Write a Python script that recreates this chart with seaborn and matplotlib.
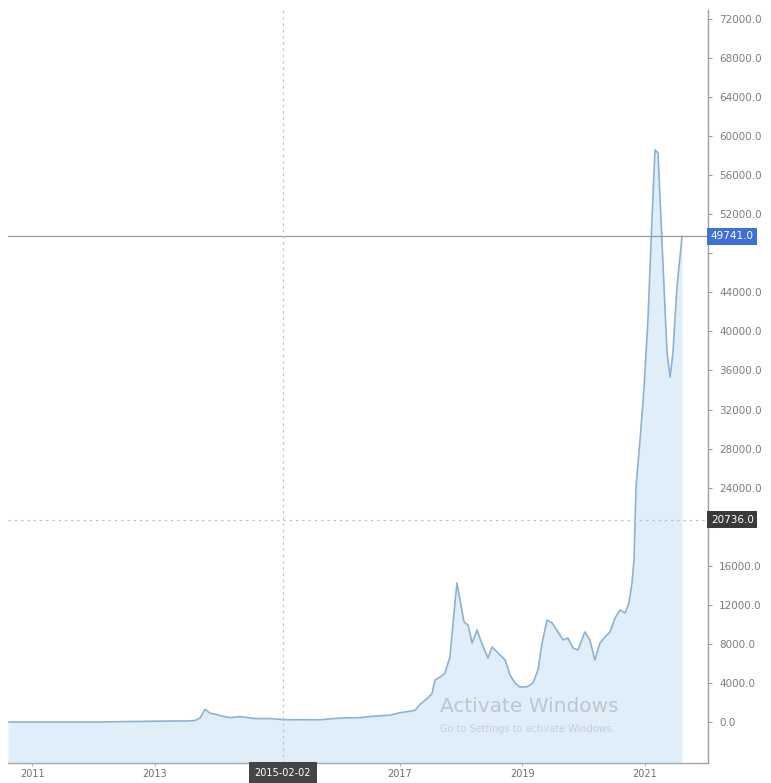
import matplotlib
matplotlib.use("Agg")
import matplotlib.pyplot as plt
import matplotlib.transforms as mtransforms
import pandas as pd
import seaborn as sns

# Price history (USD)
dates = [
    "2010-08-10", "2012-02-10", "2013-04-02", "2013-07-01", "2013-08-28",
    "2013-09-27", "2013-10-27", "2013-11-26", "2013-12-26", "2014-02-06",
    "2014-03-26", "2014-05-24", "2014-08-21", "2014-11-18", "2015-02-16",
    "2015-05-16", "2015-09-13", "2016-01-10", "2016-05-09", "2016-08-06",
    "2016-11-03", "2017-01-02", "2017-03-02", "2017-04-01", "2017-05-01",
    "2017-06-18", "2017-07-11", "2017-07-29", "2017-08-28", "2017-09-26",
    "2017-10-26", "2017-11-19", "2017-12-07", "2017-12-25", "2018-01-18",
    "2018-02-11", "2018-03-07", "2018-04-06", "2018-05-05", "2018-06-10",
    "2018-07-04", "2018-08-21", "2018-09-20", "2018-10-19", "2018-11-18",
    "2018-12-18", "2019-01-28", "2019-03-05", "2019-04-04", "2019-04-28",
    "2019-05-28", "2019-06-27", "2019-08-01", "2019-08-31", "2019-09-29",
    "2019-10-29", "2019-11-28", "2020-01-08", "2020-02-07", "2020-03-08",
    "2020-04-07", "2020-05-07", "2020-06-06", "2020-07-06", "2020-08-05",
    "2020-09-04", "2020-09-27", "2020-10-15", "2020-10-27", "2020-11-08",
    "2020-12-02", "2020-12-26", "2021-01-18", "2021-02-11", "2021-03-01",
    "2021-03-19", "2021-04-06", "2021-04-24", "2021-05-12", "2021-05-30",
    "2021-06-16", "2021-07-10", "2021-08-03", "2021-08-09",
]
prices = [
    0.1, 5, 100, 100, 150,
    400, 1300, 900, 800, 600,
    450, 550, 350, 350, 230,
    240, 230, 400, 450, 600,
    700, 950, 1100, 1200, 1800,
    2500, 2900, 4300, 4600, 5000,
    6650, 11160, 14240, 12500, 10240,
    9930, 8090, 9420, 8000, 6550,
    7680, 6860, 6350, 4810, 3990,
    3580, 3600, 4000, 5330, 8090,
    10450, 10140, 9220, 8400, 8600,
    7580, 7370, 9220, 8400, 6350,
    8090, 8700, 9220, 10650, 11470,
    11160, 12190, 14240, 16600, 24070,
    28880, 34310, 41170, 51410, 58580,
    58280, 51410, 44550, 37790, 35330,
    37790, 44550, 48640, 49741,
]

year_ticks = ["2011", "2013", "2017", "2019", "2021"]
y_ticks = list(range(0, 72001, 4000))
last_price = 49741
cross_date = "2015-02-02"
cross_price = 20736

df = pd.DataFrame({"date": pd.to_datetime(dates), "price": prices})

sns.set_theme(style="white")
plt.rcParams["font.family"] = ["DejaVu Sans"]

fig = plt.figure(figsize=(7.71, 7.83), dpi=100)
ax = fig.add_axes([8 / 771, 20 / 783, 700 / 771, 753 / 783])

y_lo, y_hi = -4200, 72920
line_color = "#8fb1d0"
sns.lineplot(data=df, x="date", y="price", ax=ax, color=line_color, linewidth=1.2)
ax.fill_between(df["date"], df["price"], y_lo, color="#dcedf9", alpha=0.9, linewidth=0)

ax.set_ylim(y_lo, y_hi)
ax.set_xlim(pd.Timestamp("2010-08-10"), pd.Timestamp("2022-01-11"))
ax.set_xlabel("")
ax.set_ylabel("")

# Right-hand price scale; ticks sitting under the price tags carry no label
def tick_text(v):
    if abs(v - last_price) < 2000 or abs(v - cross_price) < 2000:
        return ""
    return f"{v:.1f}"

ax.yaxis.tick_right()
ax.set_yticks(y_ticks)
ax.set_yticklabels([tick_text(v) for v in y_ticks])
ax.tick_params(axis="y", direction="out", length=3, width=0.8, colors="#9a9a9a",
               labelcolor="#7d7d7d", labelsize=7.5, pad=5, right=True)

# Year ticks along the time axis
ax.set_xticks([pd.Timestamp(f"{y}-01-01") for y in year_ticks])
ax.set_xticklabels(year_ticks)
ax.tick_params(axis="x", direction="out", length=2, width=0.8, colors="#b0b0b0",
               labelcolor="#6f6f6f", labelsize=7, pad=2, bottom=True)

for side in ["left", "top"]:
    ax.spines[side].set_visible(False)
ax.spines["right"].set_color("#9f9f9f")
ax.spines["right"].set_linewidth(1.0)
ax.spines["bottom"].set_color("#a8a8a8")
ax.spines["bottom"].set_linewidth(1.0)
ax.grid(False)

# Last price line and tag
ax.axhline(last_price, color="#9a9a9a", linewidth=0.9, zorder=3)
yt = mtransforms.blended_transform_factory(ax.transAxes, ax.transData)
ax.text(1.004, last_price, f"{last_price:.1f}", transform=yt, ha="left", va="center",
        fontsize=7.5, color="white", zorder=5, clip_on=False,
        bbox=dict(boxstyle="square,pad=0.35", fc="#3f70d6", ec="none"))

# Crosshair
cx = pd.Timestamp(cross_date)
ax.axvline(cx, color="#c4c4c4", linewidth=0.9, linestyle=(0, (2, 3)), zorder=3)
ax.axhline(cross_price, color="#c4c4c4", linewidth=0.9, linestyle=(0, (2, 3)), zorder=3)
ax.text(1.004, cross_price, f"{cross_price:.1f}", transform=yt, ha="left", va="center",
        fontsize=7.5, color="white", zorder=5, clip_on=False,
        bbox=dict(boxstyle="square,pad=0.35", fc="#3a3a3a", ec="none"))
xt = mtransforms.blended_transform_factory(ax.transData, ax.transAxes)
ax.text(cx, -0.0135, cross_date, transform=xt, ha="center", va="center",
        fontsize=7, color="white", zorder=5, clip_on=False,
        bbox=dict(boxstyle="square,pad=0.6", fc="#454545", ec="none"))

# OS activation watermark over the chart
fig.text(440 / 771, 1 - 706 / 783, "Activate Windows", fontsize=14.5,
         color="#b9bfc6", alpha=0.85, ha="left", va="center")
fig.text(440 / 771, 1 - 729 / 783, "Go to Settings to activate Windows.", fontsize=7,
         color="#c3c8ce", alpha=0.85, ha="left", va="center")

fig.savefig("out.png", dpi=100)
